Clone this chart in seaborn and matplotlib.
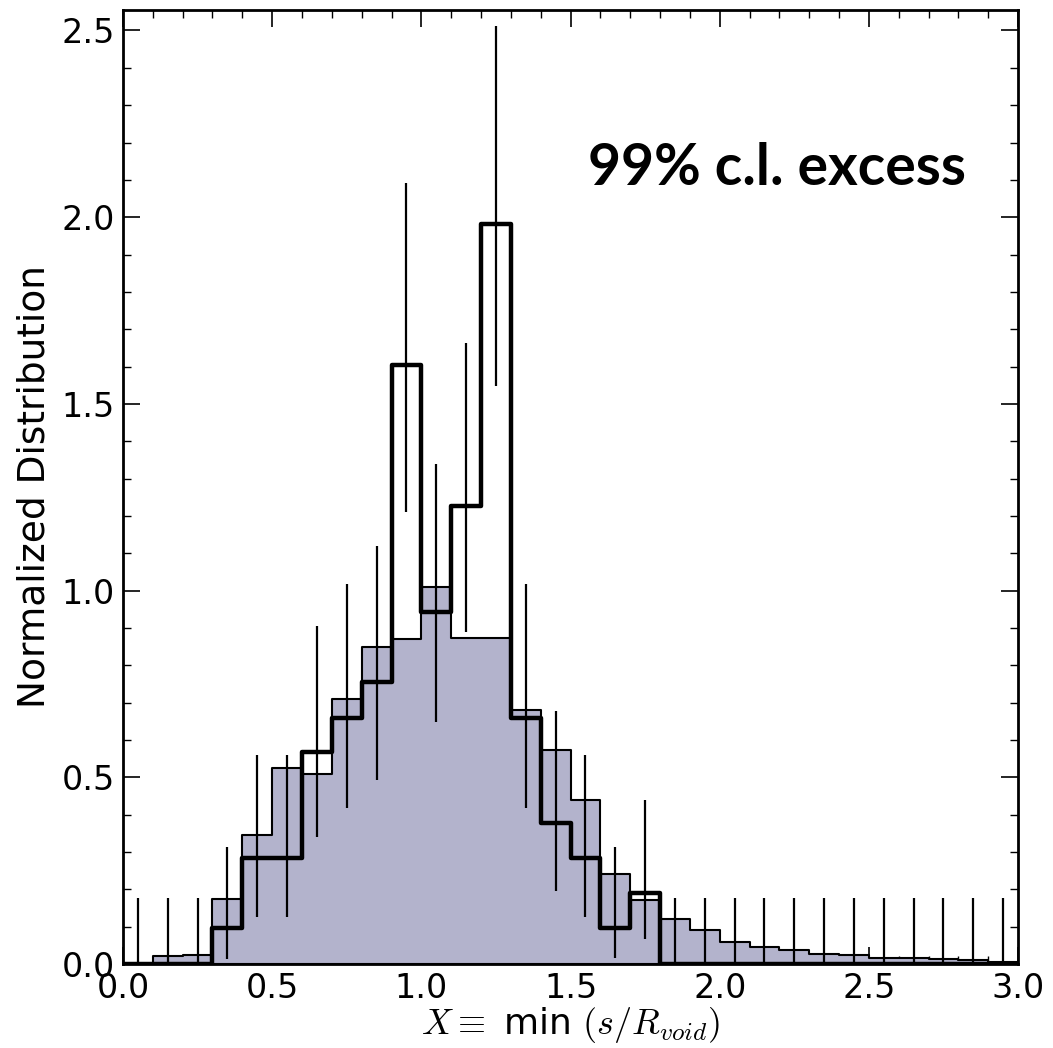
import numpy as np
import pandas as pd
import matplotlib
matplotlib.use("Agg")
import matplotlib.pyplot as plt
import seaborn as sns
from matplotlib.ticker import MultipleLocator

# ---- data ----
bin_centers = [0.05, 0.15, 0.25, 0.35, 0.45, 0.55, 0.65, 0.75, 0.85, 0.95,
               1.05, 1.15, 1.25, 1.35, 1.45, 1.55, 1.65, 1.75, 1.85, 1.95,
               2.05, 2.15, 2.25, 2.35, 2.45, 2.55, 2.65, 2.75, 2.85, 2.95]

# grey (reference) normalized distribution
reference_vals = [0.0, 0.021, 0.024, 0.173, 0.345, 0.526, 0.510, 0.709, 0.848, 0.869,
                  1.010, 0.872, 0.874, 0.680, 0.573, 0.439, 0.241, 0.170, 0.120, 0.091,
                  0.060, 0.046, 0.037, 0.027, 0.023, 0.015, 0.017, 0.012, 0.010, 0.005]

# black (excess sample) normalized distribution
excess_vals = [0.0, 0.0, 0.0, 0.0955, 0.283, 0.283, 0.568, 0.660, 0.754, 1.603,
               0.943, 1.226, 1.981, 0.660, 0.378, 0.283, 0.0955, 0.191, 0.0, 0.0,
               0.0, 0.0, 0.0, 0.0, 0.0, 0.0, 0.0, 0.0, 0.0, 0.0]

# error bar extents (lower / upper ends)
err_low = [0.0, 0.0, 0.0, 0.013, 0.127, 0.127, 0.341, 0.417, 0.492, 1.211,
           0.649, 0.890, 1.548, 0.417, 0.196, 0.127, 0.015, 0.066, 0.0, 0.0,
           0.0, 0.0, 0.0, 0.0, 0.0, 0.0, 0.0, 0.0, 0.0, 0.0]
err_high = [0.176, 0.176, 0.176, 0.314, 0.559, 0.559, 0.905, 1.017, 1.120, 2.091,
            1.340, 1.664, 2.513, 1.017, 0.678, 0.559, 0.312, 0.439, 0.176, 0.176,
            0.176, 0.176, 0.176, 0.176, 0.176, 0.176, 0.176, 0.176, 0.176, 0.176]

x_ticks = [0.0, 0.5, 1.0, 1.5, 2.0, 2.5, 3.0]
y_ticks = [0.0, 0.5, 1.0, 1.5, 2.0, 2.5]
annotation = "99% c.l. excess"

df = pd.DataFrame({"x": bin_centers, "ref": reference_vals, "exc": excess_vals,
                   "lo": err_low, "hi": err_high})

sns.set_style("ticks")
plt.rcParams["font.family"] = ["DejaVu Sans"]
plt.rcParams["mathtext.fontset"] = "cm"
plt.rcParams["text.color"] = "black"
plt.rcParams["axes.labelcolor"] = "black"
plt.rcParams["xtick.color"] = "black"
plt.rcParams["ytick.color"] = "black"

fig = plt.figure(figsize=(10.53, 10.48), dpi=100)
ax = fig.add_axes([0.1168, 0.0802, 0.85, 0.9103])

sns.histplot(data=df, x="x", weights="ref", binwidth=0.1, binrange=(0, 3),
             element="step", fill=True, color="#b3b3cc", alpha=1.0,
             edgecolor="black", linewidth=1.5, ax=ax, zorder=1)
sns.histplot(data=df, x="x", weights="exc", binwidth=0.1, binrange=(0, 3),
             element="step", fill=False, color="black", linewidth=3.2,
             ax=ax, zorder=3)

ax.errorbar(df["x"], df["exc"],
            yerr=[df["exc"] - df["lo"], df["hi"] - df["exc"]],
            fmt="none", ecolor="black", elinewidth=1.6, capsize=0, zorder=4)

ax.set_xlim(0, 3.0)
ax.set_ylim(0, 2.555)
ax.set_xticks(x_ticks)
ax.set_yticks(y_ticks)
ax.xaxis.set_minor_locator(MultipleLocator(0.1))
ax.yaxis.set_minor_locator(MultipleLocator(0.1))
ax.tick_params(which="both", direction="in", top=True, right=True, color="black",
               labelcolor="black")
ax.tick_params(which="major", length=12, width=1.2, labelsize=24, pad=6)
ax.tick_params(which="minor", length=6, width=1.0)
ax.set_xticklabels([f"{v:.1f}" for v in x_ticks])
ax.set_yticklabels([f"{v:.1f}" for v in y_ticks])
for s in ax.spines.values():
    s.set_linewidth(2.0)
    s.set_color("black")
    s.set_visible(True)

ax.set_xlabel(r"$X\equiv$ min $(s/R_{void})$", fontsize=26, labelpad=0, color="black")
ax.set_ylabel("Normalized Distribution", fontsize=27, labelpad=6, color="black")

ax.text(0.942, 0.8335, annotation, transform=ax.transAxes, ha="right", va="center",
        fontsize=41, fontweight="bold", color="black",
        family=["Lato", "DejaVu Sans"])

fig.savefig("out.png", dpi=100)
